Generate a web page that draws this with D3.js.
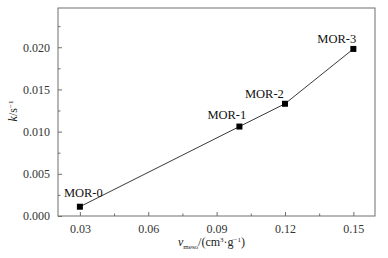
<!DOCTYPE html>
<html>
<head>
<meta charset="utf-8">
<script src="https://cdn.jsdelivr.net/npm/d3@7"></script>
<style>
  body { margin: 0; background: #fff; }
  svg text { font-family: "Liberation Serif", "DejaVu Serif", serif !important; }
</style>
</head>
<body>
<svg width="388" height="258"></svg>
<script>
// data
var samples = ["MOR-0", "MOR-1", "MOR-2", "MOR-3"];
var vmeso = [0.03, 0.10, 0.12, 0.15];
var kRate = [0.0011, 0.0106, 0.0133, 0.0198];
var xTicks = [0.03, 0.06, 0.09, 0.12, 0.15];
var yTicks = [0, 0.005, 0.010, 0.015, 0.020];

// label offsets from each point (left edge, baseline)
var labelOff = [[-16, -10], [-32, -8], [-40, -6], [-36, -6]];

var svg = d3.select("svg"),
    margin = {top: 8, right: 13, bottom: 42, left: 58},
    width = +svg.attr("width") - margin.left - margin.right,
    height = +svg.attr("height") - margin.top - margin.bottom;

var x = d3.scaleLinear().domain([0.0204, 0.1595]).range([0, width]),
    y = d3.scaleLinear().domain([0, 0.02465]).range([height, 0]);

var g = svg.append("g")
    .attr("transform", "translate(" + margin.left + "," + margin.top + ")");

var axisCol = "#6e6e6e";
var serif = "'Liberation Serif', 'DejaVu Serif', serif";

// frame
g.append("rect")
    .attr("width", width).attr("height", height)
    .attr("fill", "none").attr("stroke", axisCol).attr("stroke-width", 1);

// x axis, ticks inside
g.append("g")
    .attr("transform", "translate(0," + height + ")")
    .call(d3.axisBottom(x).tickValues(xTicks).tickSize(-4).tickPadding(8)
      .tickFormat(d3.format(".2f")));
g.append("g")
    .attr("transform", "translate(0," + height + ")")
    .call(d3.axisBottom(x).tickValues(d3.range(0.045, 0.16, 0.03)).tickSize(-2.5).tickFormat(""));

// y axis, ticks inside
g.append("g")
    .call(d3.axisLeft(y).tickValues(yTicks).tickSize(-4).tickPadding(8)
      .tickFormat(d3.format(".3f")));
g.append("g")
    .call(d3.axisLeft(y).tickValues([0.0025, 0.0075, 0.0125, 0.0175, 0.0225]).tickSize(-2.5).tickFormat(""));

g.selectAll(".domain").remove();
g.selectAll("g").attr("font-family", serif);
g.selectAll(".tick line").attr("stroke", axisCol);
g.selectAll(".tick text").attr("fill", "#333").attr("font-size", 12);

// line
var pts = vmeso.map(function(v, i) { return [v, kRate[i]]; });
g.append("path")
    .datum(pts)
    .attr("fill", "none").attr("stroke", "#222").attr("stroke-width", 0.9)
    .attr("d", d3.line().x(function(d) { return x(d[0]); }).y(function(d) { return y(d[1]); }));

// square markers
g.selectAll(".pt")
    .data(pts)
    .enter().append("rect")
      .attr("class", "pt")
      .attr("x", function(d) { return x(d[0]) - 3; })
      .attr("y", function(d) { return y(d[1]) - 3; })
      .attr("width", 6).attr("height", 6)
      .attr("fill", "#000");

// sample labels
g.selectAll(".lbl")
    .data(pts)
    .enter().append("text")
      .attr("class", "lbl")
      .attr("x", function(d, i) { return x(d[0]) + labelOff[i][0]; })
      .attr("y", function(d, i) { return y(d[1]) + labelOff[i][1]; })
      .attr("fill", "#111")
      .attr("font-family", serif)
      .attr("font-size", 12.5)
      .text(function(d, i) { return samples[i]; });

// axis titles
var xt = svg.append("text")
    .attr("x", 178)
    .attr("y", 246)
    .attr("fill", "#222")
    .attr("font-family", serif)
    .attr("font-size", 12);
xt.append("tspan").style("font-style", "italic").text("v");
xt.append("tspan").attr("dy", 3).attr("font-size", 7).text("meso");
xt.append("tspan").attr("dy", -3).text("/(cm");
xt.append("tspan").attr("dy", -4).attr("font-size", 7).text("3");
xt.append("tspan").attr("dy", 4).text("·g");
xt.append("tspan").attr("dy", -4).attr("font-size", 7).text("−1");
xt.append("tspan").attr("dy", 4).text(")");

var yt = svg.append("text")
    .attr("transform", "translate(17,111) rotate(-90)")
    .attr("text-anchor", "middle")
    .attr("fill", "#222")
    .attr("font-family", serif)
    .attr("font-size", 12);
yt.append("tspan").style("font-style", "italic").text("k");
yt.append("tspan").text("/s");
yt.append("tspan").attr("dy", -4).attr("font-size", 7).text("−1");
</script>
</body>
</html>
